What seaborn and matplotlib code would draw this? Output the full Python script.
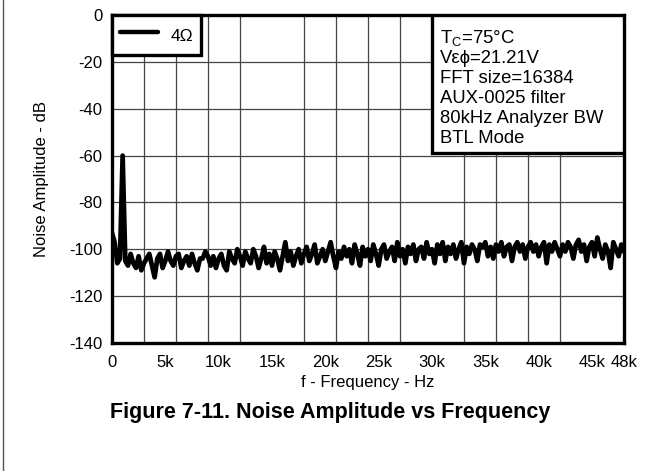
import numpy as np
import pandas as pd
import matplotlib
matplotlib.use("Agg")
import matplotlib.pyplot as plt
from matplotlib.patches import Rectangle
from matplotlib.lines import Line2D
from matplotlib.ticker import MultipleLocator
import seaborn as sns

# noise amplitude (dB), every 250 Hz from 0 Hz to 48 kHz
amp_db = [
    -93, -97, -106, -104, -60, -105, -107, -102,
    -106, -108, -103, -109, -106, -104, -102, -107,
    -112, -104, -102, -108, -105, -101, -105, -107,
    -103, -102, -108, -105, -103, -107, -102, -106,
    -109, -104, -104, -101, -103, -107, -103, -108,
    -104, -102, -107, -109, -101, -104, -106, -100,
    -103, -107, -101, -104, -106, -100, -103, -108,
    -104, -99, -106, -102, -107, -101, -104, -109,
    -103, -97, -105, -101, -107, -103, -100, -106,
    -102, -99, -105, -102, -98, -106, -103, -100,
    -105, -101, -97, -103, -108, -101, -104, -99,
    -103, -100, -106, -98, -102, -107, -99, -103,
    -100, -105, -98, -102, -107, -100, -98, -104,
    -101, -99, -105, -97, -103, -100, -106, -99,
    -102, -98, -105, -100, -99, -104, -97, -102,
    -100, -106, -98, -102, -97, -105, -99, -102,
    -98, -104, -100, -97, -106, -99, -102, -98,
    -100, -105, -98, -99, -97, -103, -99, -104,
    -98, -101, -97, -103, -99, -98, -105, -99,
    -97, -101, -98, -104, -99, -97, -101, -98,
    -103, -99, -97, -106, -98, -101, -97, -100,
    -103, -98, -101, -97, -99, -104, -98, -96,
    -101, -98, -105, -99, -97, -103, -95, -100,
    -104, -98, -101, -108, -97, -100, -103, -98,
    -101,
]
freq_step_hz = 250
series_label = "4Ω"
x_tick_values = [0, 5000, 10000, 15000, 20000, 25000, 30000, 35000, 40000, 45000, 48000]
x_tick_labels = ["0", "5k", "10k", "15k", "20k", "25k", "30k", "35k", "40k", "45k", "48k"]
y_tick_values = [-140, -120, -100, -80, -60, -40, -20, 0]
conditions = ["T$_\\mathregular{C}$=75°C", "Vεϕ=21.21V", "FFT size=16384",
              "AUX-0025 filter", "80kHz Analyzer BW", "BTL Mode"]

freq_hz = np.arange(len(amp_db)) * freq_step_hz
df = pd.DataFrame({"f": freq_hz, "amp": amp_db})

sns.set_style("white")
plt.rcParams["font.family"] = ["Liberation Sans", "DejaVu Sans"]
plt.rcParams["mathtext.fontset"] = "custom"
plt.rcParams["mathtext.rm"] = "Liberation Sans"
plt.rcParams["axes.unicode_minus"] = False
for key in ("text.color", "axes.labelcolor", "xtick.color", "ytick.color"):
    plt.rcParams[key] = "black"

fig = plt.figure(figsize=(6.61, 4.71), dpi=100)
ax = fig.add_axes([0.1694, 0.272, 0.7746, 0.696])

# grid: every 3 kHz vertically, every 20 dB horizontally
ax.xaxis.set_minor_locator(MultipleLocator(3000))
ax.grid(which="minor", axis="x", color="#444444", lw=0.9)
ax.grid(which="major", axis="y", color="#444444", lw=0.9)
ax.grid(which="major", axis="x", visible=False)
ax.set_axisbelow(True)

sns.lineplot(data=df, x="f", y="amp", ax=ax, color="black", lw=3.4,
             label=series_label, zorder=3)

ax.set_xlim(0, 48000)
ax.set_ylim(-140, 0)
ax.set_xticks(x_tick_values)
ax.set_xticklabels(x_tick_labels)
ax.set_yticks(y_tick_values)
ax.tick_params(axis="x", which="both", length=0, labelsize=12, pad=9)
ax.tick_params(axis="y", which="both", length=0, labelsize=12, pad=7)
ax.set_xlabel("f - Frequency - Hz", fontsize=12, labelpad=3)
ax.set_ylabel("Noise Amplitude - dB", fontsize=12, labelpad=14)
for s in ax.spines.values():
    s.set_color("black")
    s.set_linewidth(2.4)

leg = ax.legend(loc="upper left", borderaxespad=0, fancybox=False,
                handlelength=2.2, handleheight=1.8, handletextpad=0.75,
                fontsize=12.5, borderpad=0.45, framealpha=1)
leg.get_frame().set_edgecolor("black")
leg.get_frame().set_linewidth(2.4)
leg.get_lines()[0].set_linewidth(3.2)
leg.set_zorder(5)

box = Rectangle((0.625, 0.579), 0.375, 0.421, transform=ax.transAxes,
                facecolor="white", edgecolor="black", lw=2.4, zorder=5)
ax.add_patch(box)
ax.text(0.641, 0.962, "\n".join(conditions), transform=ax.transAxes,
        ha="left", va="top", fontsize=13.3, linespacing=1.22, zorder=6)

fig.text(0.5, 0.125, "Figure 7-11. Noise Amplitude vs Frequency",
         ha="center", va="center", fontsize=15.5, fontweight="bold")
fig.add_artist(Line2D([0.004, 0.004], [0, 1], color="#555555", lw=1))

fig.savefig("out.png", dpi=100)
